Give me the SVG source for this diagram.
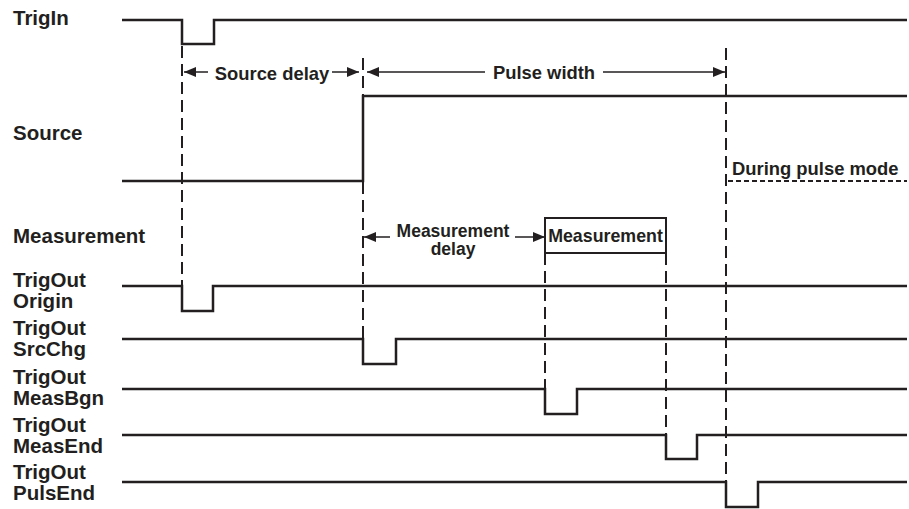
<svg xmlns="http://www.w3.org/2000/svg" width="909" height="509" viewBox="0 0 909 509">
<style>
.sig{fill:none;stroke:#231f20;stroke-width:2.5;stroke-linejoin:miter;stroke-linecap:butt}
.dash{fill:none;stroke:#231f20;stroke-width:2;stroke-dasharray:12 6}
.hd{fill:none;stroke:#231f20;stroke-width:2;stroke-dasharray:5 3}
.arr{fill:none;stroke:#231f20;stroke-width:1.5;marker-end:url(#ah)}
.lbl{font-family:"Liberation Sans",Arial,sans-serif;font-weight:bold;font-size:20.5px;fill:#231f20}
.note{font-family:"Liberation Sans",Arial,sans-serif;font-weight:bold;font-size:18.4px;fill:#231f20}
.box{fill:#fff;stroke:#231f20;stroke-width:2}
</style>
<defs>
<marker id="ah" markerUnits="userSpaceOnUse" markerWidth="12" markerHeight="11" refX="12" refY="5.5" orient="auto">
<path d="M0,0.5 L12,5.5 L0,10.5 z" fill="#231f20"/>
</marker>
</defs>
<rect width="909" height="509" fill="#fff"/>
<g id="labels">
<text class="lbl" x="13" y="25">TrigIn</text>
<text class="lbl" x="13" y="140">Source</text>
<text class="lbl" x="13" y="243">Measurement</text>
<text class="lbl" x="13" y="287">TrigOut</text>
<text class="lbl" x="13" y="307.5">Origin</text>
<text class="lbl" x="13" y="335">TrigOut</text>
<text class="lbl" x="13" y="356">SrcChg</text>
<text class="lbl" x="13" y="384">TrigOut</text>
<text class="lbl" x="13" y="405">MeasBgn</text>
<text class="lbl" x="13" y="432">TrigOut</text>
<text class="lbl" x="13" y="453">MeasEnd</text>
<text class="lbl" x="13" y="479">TrigOut</text>
<text class="lbl" x="13" y="500">PulsEnd</text>
</g>
<g id="signals">
<path id="sig-trigin" class="sig" d="M122,20 H182 V44 H214 V20 H907"/>
<path id="sig-source" class="sig" d="M122,181 H363 V96 H907"/>
<path id="sig-origin" class="sig" d="M122,286 H182 V311 H213 V286 H907"/>
<path id="sig-srcchg" class="sig" d="M122,339 H363 V364 H396 V339 H907"/>
<path id="sig-measbgn" class="sig" d="M122,389 H545 V414 H577 V389 H907"/>
<path id="sig-measend" class="sig" d="M122,435 H666 V459 H697 V435 H907"/>
<path id="sig-pulsend" class="sig" d="M122,482 H726 V507 H758 V482 H907"/>
</g>
<g id="connectors">
<line class="dash" x1="182" y1="46" x2="182" y2="286"/>
<line class="dash" x1="363" y1="58" x2="363" y2="96"/>
<line class="dash" x1="363" y1="182" x2="363" y2="339"/>
<line class="dash" x1="726" y1="48" x2="726" y2="482"/>
<line class="dash" x1="545" y1="253" x2="545" y2="389"/>
<line class="dash" x1="666" y1="253" x2="666" y2="435"/>
<line class="hd" x1="728" y1="181" x2="907" y2="181"/>
<line class="arr" x1="208" y1="72" x2="184" y2="72"/>
<line class="arr" x1="332" y1="72" x2="359" y2="72"/>
<line class="arr" x1="485" y1="72" x2="367" y2="72"/>
<line class="arr" x1="603" y1="72" x2="725" y2="72"/>
<line class="arr" x1="390" y1="237" x2="364" y2="237"/>
<line class="arr" x1="515" y1="237" x2="545" y2="237"/>
</g>
<g id="annotations">
<text class="note" x="272" y="80" text-anchor="middle">Source delay</text>
<text class="note" x="544" y="79" text-anchor="middle">Pulse width</text>
<text class="note" x="732" y="175">During pulse mode</text>
<text class="note" x="453" y="237" text-anchor="middle" style="font-size:17.5px">Measurement</text>
<text class="note" x="453" y="255" text-anchor="middle" style="font-size:17.5px">delay</text>
</g>
<g id="node-measurement">
<rect class="box" x="545" y="218" width="121" height="35"/>
<text class="note" x="605.5" y="242" text-anchor="middle" style="font-size:17.8px">Measurement</text>
</g>
</svg>
